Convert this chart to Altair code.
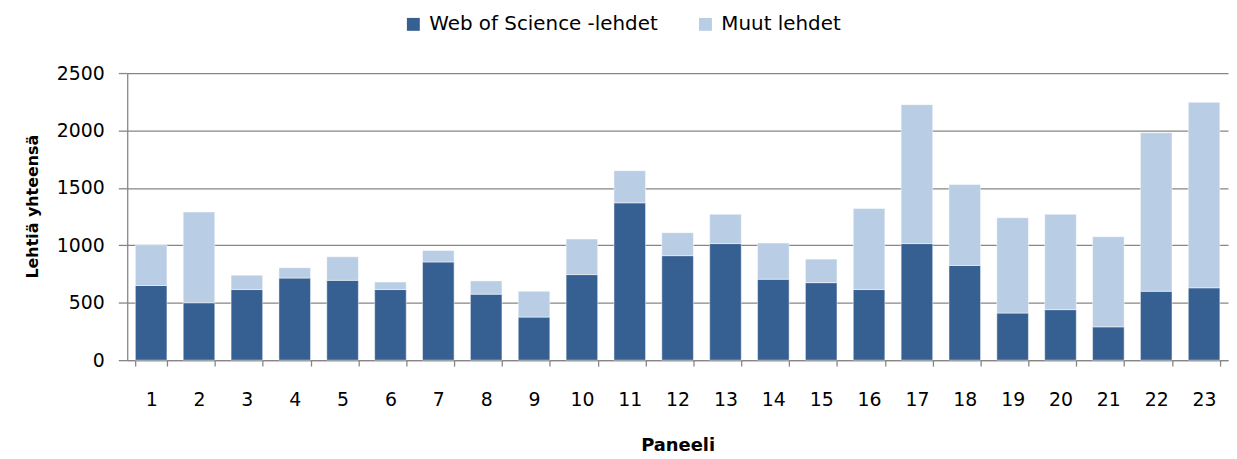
import altair as alt
import pandas as pd

panels = [str(i) for i in range(1, 24)]
wos = [650, 500, 615, 715, 695, 615, 855, 575, 375, 745, 1370, 910, 1015, 705, 675, 615, 1015, 825, 410, 440, 290, 600, 630]
total = [1005, 1290, 740, 805, 900, 680, 955, 690, 600, 1055, 1650, 1110, 1270, 1020, 880, 1320, 2225, 1530, 1240, 1270, 1075, 1980, 2245]
muut = [t - w for t, w in zip(total, wos)]
series = ["Web of Science -lehdet", "Muut lehdet"]
colors = ["#376092", "#B9CDE5"]

rows = []
for p, w, m in zip(panels, wos, muut):
    rows.append({"Paneeli": p, "sarja": series[0], "arvo": w, "jarj": 0})
    rows.append({"Paneeli": p, "sarja": series[1], "arvo": m, "jarj": 1})
df = pd.DataFrame(rows)

FONT = "DejaVu Sans"
W, H = 1108, 289

chart = alt.Chart(df).mark_bar(stroke="white", strokeWidth=0.8, strokeOpacity=0.6).encode(
    x=alt.X("Paneeli:N", sort=panels,
            scale=alt.Scale(paddingInner=0.34, paddingOuter=0.17),
            axis=alt.Axis(title="Paneeli", labelAngle=0, tickBand="extent",
                          labelPadding=25, tickSize=6, titleY=86, titleBaseline="middle",
                          titleFontSize=18, grid=False)),
    y=alt.Y("arvo:Q", stack="zero",
            scale=alt.Scale(domain=[0, 2500], nice=False),
            axis=alt.Axis(title="Lehtiä yhteensä", values=[0, 500, 1000, 1500, 2000, 2500],
                          format="d", tickSize=9, labelPadding=14,
                          titleAngle=270, titleX=-95, titleY=134, titleFontSize=16,
                          titleBaseline="middle", titleAlign="center")),
    color=alt.Color("sarja:N", sort=series,
                    scale=alt.Scale(domain=series, range=colors),
                    legend=alt.Legend(title=None, orient="none", direction="horizontal",
                                      legendX=278, legendY=-59, symbolType="square",
                                      symbolSize=169, symbolStrokeWidth=0,
                                      labelFontSize=20, labelFont=FONT, labelLimit=0,
                                      columnPadding=37, labelOffset=6)),
    order=alt.Order("jarj:Q", sort="ascending"),
).properties(
    width=W, height=H,
    autosize=alt.AutoSizeParams(type="none"),
    padding={"left": 120, "top": 64, "right": 1, "bottom": 96},
).configure_view(stroke=None).configure_axis(
    labelFont=FONT, labelFontSize=19, labelColor="#000000",
    titleFont=FONT, titleFontWeight="bold", titleColor="#000000",
    domainColor="#868686", tickColor="#868686", gridColor="#868686",
    domainWidth=1.3, tickWidth=1.3, gridWidth=1.3,
).configure_axisX(grid=False).configure_axisY(grid=True)

chart.save("out.html", embed_options={"renderer": "svg", "actions": False})
